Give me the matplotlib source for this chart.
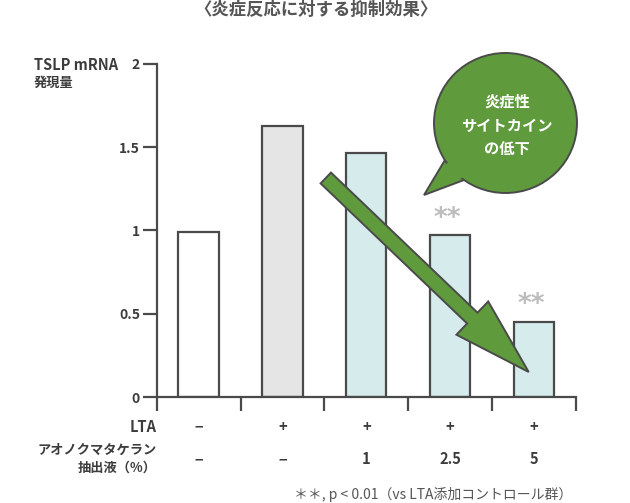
import matplotlib
matplotlib.use("Agg")
import matplotlib.pyplot as plt
import matplotlib.transforms as mtransforms
from matplotlib.patches import Ellipse, Polygon, FancyArrow

plt.rcParams['font.family'] = ['Noto Sans CJK JP', 'DejaVu Sans']

# data
values = [0.99, 1.63, 1.465, 0.97, 0.45]
bar_colors = ['#ffffff', '#e5e5e5', '#d5ebec', '#d5ebec', '#d5ebec']
lta_row = ['−', '+', '+', '+', '+']
extract_row = ['−', '−', '1', '2.5', '5']
signif = ['', '', '', '**', '**']
yticks = [0, 0.5, 1, 1.5, 2]
ytick_labels = ['0', '0.5', '1', '1.5', '2']

dark = '#4a4a4a'
text_c = '#3c3c3c'
green = '#5f9b3c'

fig = plt.figure(figsize=(6.3, 5.03), dpi=100)
ax = fig.add_axes([0.2487, 0.2107, 0.9143 - 0.2487, 0.8728 - 0.2107])

x = [i + 0.5 for i in range(len(values))]
ax.bar(x, values, width=0.48, color=bar_colors, edgecolor=dark, linewidth=1.6, zorder=2)

ax.set_xlim(0, 5)
ax.set_ylim(0, 2)
ax.set_xticks(range(6))
ax.set_xticklabels([])
ax.set_yticks(yticks)
ax.set_yticklabels(ytick_labels, fontsize=10, color=text_c, fontweight='bold')
ax.tick_params(axis='both', color=dark, width=1.6, length=10, direction='out')
ax.tick_params(axis='y', pad=2)
for s in ['top', 'right']:
    ax.spines[s].set_visible(False)
for s in ['left', 'bottom']:
    ax.spines[s].set_color(dark)
    ax.spines[s].set_linewidth(1.6)

# significance marks
for xi, v, s in zip(x, values, signif):
    if s:
        ax.text(xi - 0.03, v + 0.06, s, ha='center', va='baseline', fontsize=19,
                color='#bdbdbd', fontweight='bold', family='DejaVu Sans')

# rows under the axis
trans = mtransforms.blended_transform_factory(ax.transData, fig.transFigure)
for xi, a, b in zip(x, lta_row, extract_row):
    ax.text(xi, 1 - 426.7 / 503, a, transform=trans, ha='center', va='center',
            fontsize=10.5, color=text_c, fontweight='bold')
    ax.text(xi, 1 - 459.5 / 503, b, transform=trans, ha='center', va='center',
            fontsize=10.5, color=text_c, fontweight='bold')

# reference pixel coords -> figure
px = mtransforms.Affine2D().scale(1 / 630, -1 / 503).translate(0, 1) + fig.transFigure

fig.text(157 / 630, 1 - 426.7 / 503, 'LTA', ha='right', va='center', fontsize=10.5,
         color=text_c, fontweight='bold')
fig.text(157 / 630, 1 - 450 / 503, 'アオノクマタケラン', ha='right', va='center',
         fontsize=9.5, color=text_c, fontweight='bold')
fig.text(157 / 630, 1 - 468 / 503, '抽出液（%）', ha='right', va='center',
         fontsize=9.5, color=text_c, fontweight='bold')

fig.text(34 / 630, 1 - 65 / 503, 'TSLP mRNA', ha='left', va='center', fontsize=10.5,
         color=text_c, fontweight='bold')
fig.text(34 / 630, 1 - 83 / 503, '発現量', ha='left', va='center', fontsize=9.5,
         color=text_c, fontweight='bold')

fig.text(316 / 630, 1 - 10 / 503, '〈炎症反応に対する抑制効果〉', ha='center', va='center',
         fontsize=12.5, color='#555555', fontweight='bold')

fig.text(572 / 630, 1 - 495 / 503, '＊＊, p < 0.01（vs LTA添加コントロール群）',
         ha='right', va='center', fontsize=10, color='#555555')

# arrow
arrow = FancyArrow(325.8, 178, 202.9, 194, width=15, head_width=46, head_length=78,
                   length_includes_head=True, transform=px, facecolor=green,
                   edgecolor=dark, linewidth=1.4, zorder=5)
fig.add_artist(arrow)

# speech bubble
tail = Polygon([(445, 160), (424, 195), (464, 180)], closed=True, transform=px,
               facecolor=green, edgecolor=dark, linewidth=1.4, zorder=6)
fig.add_artist(tail)
bubble = Ellipse((505.5, 123), 143, 140, transform=px, facecolor=green,
                 edgecolor=dark, linewidth=1.4, zorder=7)
fig.add_artist(bubble)
cover = Polygon([(447, 163), (430, 190), (462, 178), (470, 165)], closed=True,
                transform=px, facecolor=green, edgecolor='none', zorder=8)
fig.add_artist(cover)
for t, yy in zip(['炎症性', 'サイトカイン', 'の低下'], [101.7, 125.7, 149]):
    fig.text(507 / 630, 1 - yy / 503, t, ha='center', va='center', fontsize=11,
             color='white', fontweight='bold', zorder=9)

fig.savefig('out.png', dpi=100, facecolor='white')
